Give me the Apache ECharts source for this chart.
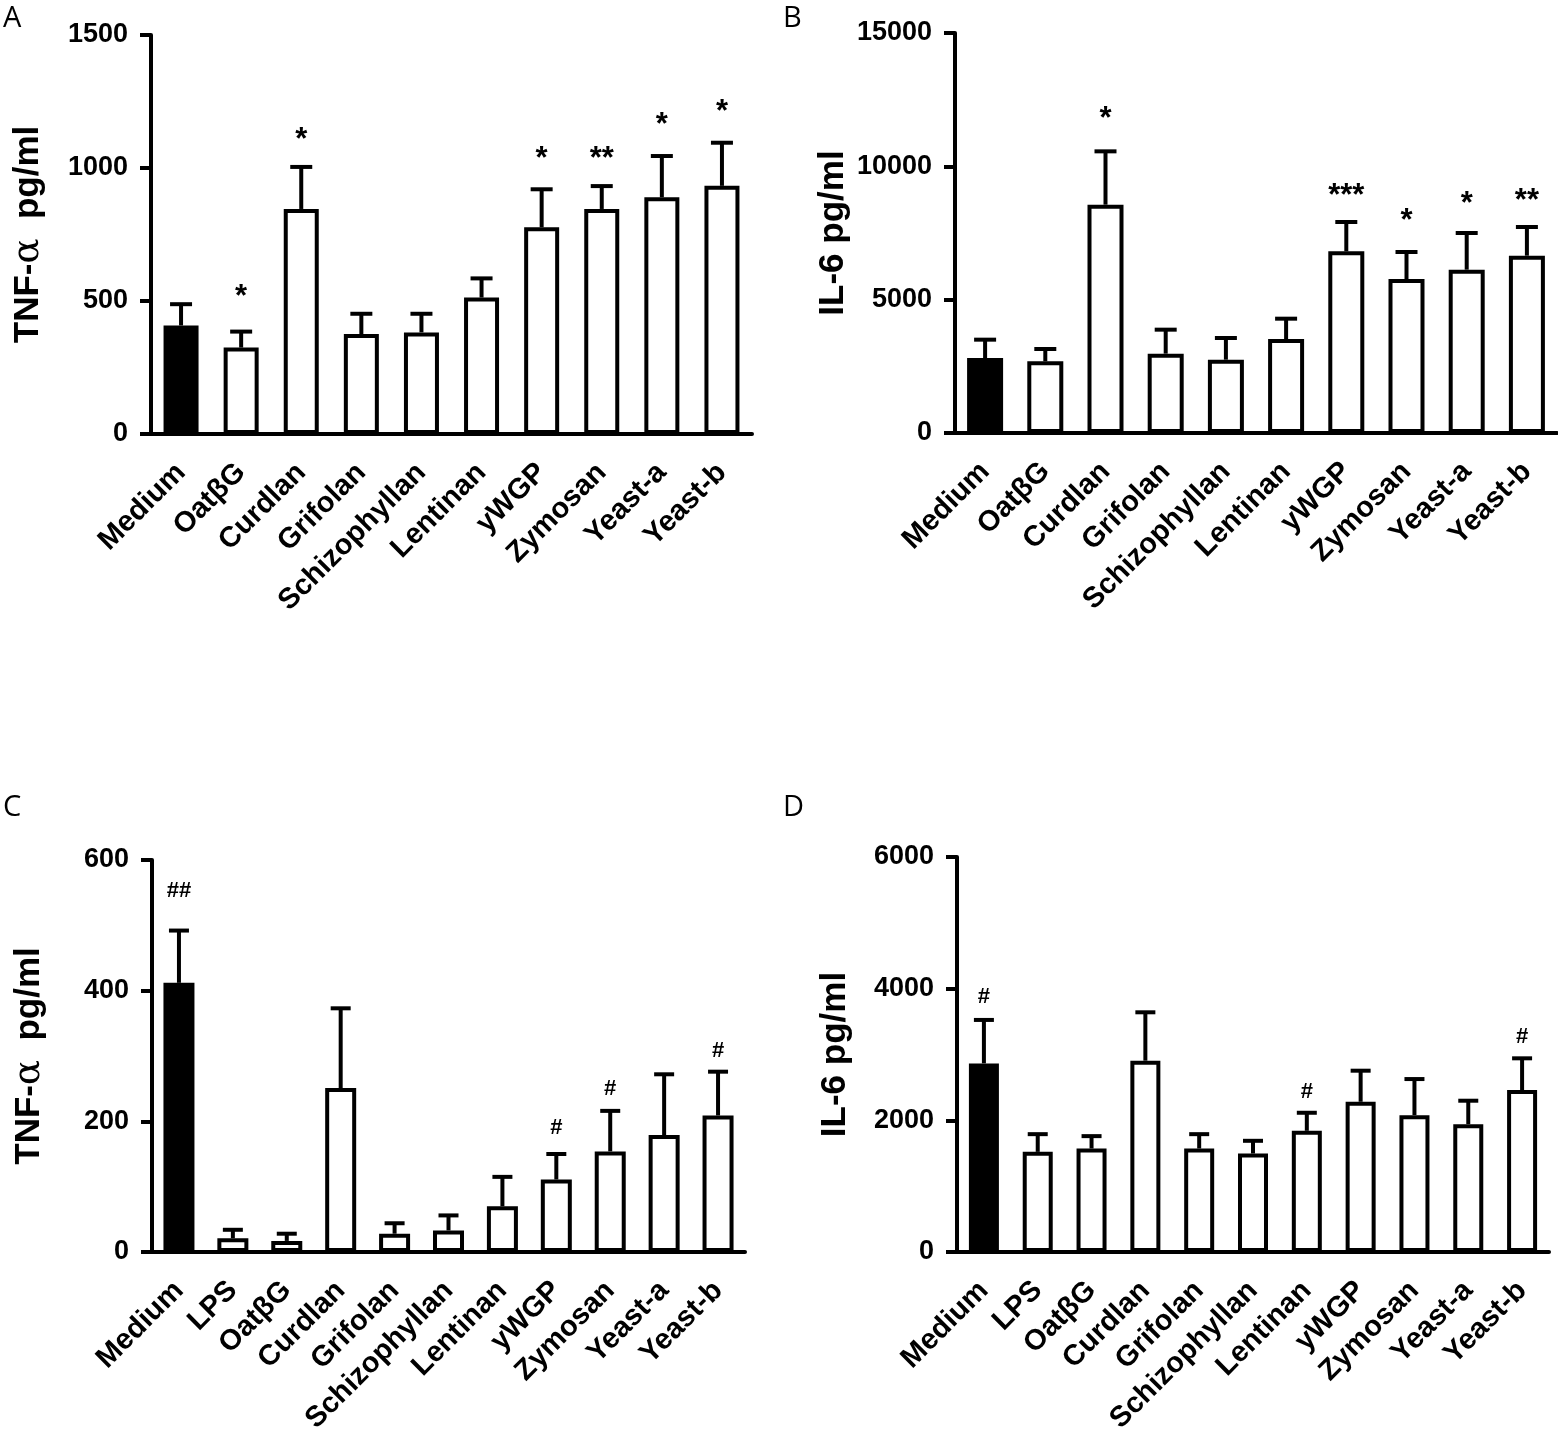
<!DOCTYPE html>
<html>
<head>
<meta charset="utf-8">
<script src="https://cdn.jsdelivr.net/npm/echarts@6/dist/echarts.min.js"></script>
<style>
  html, body { margin: 0; padding: 0; background: #fff; }
  #chart { width: 1558px; height: 1430px; }
</style>
</head>
<body>
<div id="chart"></div>
<script>
// categories
const catsAB = ['Medium', 'OatβG', 'Curdlan', 'Grifolan', 'Schizophyllan', 'Lentinan', 'yWGP', 'Zymosan', 'Yeast-a', 'Yeast-b'];
const catsCD = ['Medium', 'LPS', 'OatβG', 'Curdlan', 'Grifolan', 'Schizophyllan', 'Lentinan', 'yWGP', 'Zymosan', 'Yeast-a', 'Yeast-b'];

// A: TNF-a, means and SEM
const tnfA = [408, 325, 846, 376, 382, 513, 777, 846, 890, 933];
const tnfASem = [80, 60, 158, 76, 70, 72, 143, 86, 155, 162];
const marksA = ['', '*', '*', '', '', '', '*', '**', '*', '*'];
const marksAY = [null, 540, 1129, null, null, null, 1057, 1057, 1185, 1234];

// B: IL-6
const il6B = [2812, 2687, 8562, 2975, 2750, 3525, 6812, 5775, 6125, 6650];
const il6BSem = [688, 463, 2000, 900, 812, 762, 1100, 1012, 1375, 1075];
const marksB = ['', '', '*', '', '', '', '***', '*', '*', '**'];
const marksBY = [null, null, 12000, null, null, null, 9125, 8187, 8812, 8937];

// C: TNF-a with LPS
const tnfC = [412, 21, 17, 251, 28, 33, 70, 111, 154, 179, 209];
const tnfCSem = [80, 13, 11, 122, 16, 23, 45, 39, 62, 93, 67];
const marksC = ['##', '', '', '', '', '', '', '#', '#', '', '#'];
const marksCY = [552, null, null, null, null, null, null, 190, 249, null, 307];

// D: IL-6 with LPS
const il6D = [2865, 1521, 1572, 2906, 1572, 1496, 1841, 2282, 2079, 1942, 2460];
const il6DSem = [660, 269, 188, 735, 218, 193, 274, 472, 548, 356, 482];
const marksD = ['#', '', '', '', '', '', '#', '', '', '', '#'];
const marksDY = [3880, null, null, null, null, null, 2434, null, null, null, 3271];

// y axis ticks
const yMax = [1500, 15000, 600, 6000];
const yStep = [500, 5000, 200, 2000];

const FONT = 'Liberation Sans, Arial, sans-serif';

const panels = [
  { cats: catsAB, mean: tnfA, sem: tnfASem, marks: marksA, marksY: marksAY, name: 'tnf', grid: { left: 151, top: 35, width: 601, height: 399 }, barW: 35, cap: 22 },
  { cats: catsAB, mean: il6B, sem: il6BSem, marks: marksB, marksY: marksBY, name: 'il6', grid: { left: 955, top: 33, width: 602, height: 400 }, barW: 36, cap: 22 },
  { cats: catsCD, mean: tnfC, sem: tnfCSem, marks: marksC, marksY: marksCY, name: 'tnf', grid: { left: 152, top: 860, width: 593, height: 392 }, barW: 31, cap: 20 },
  { cats: catsCD, mean: il6D, sem: il6DSem, marks: marksD, marksY: marksDY, name: 'il6', grid: { left: 957, top: 857, width: 592, height: 395 }, barW: 30, cap: 20 }
];

function errRender(capW) {
  return function (params, api) {
    const i = api.value(0);
    const base = api.coord([i, api.value(1)]);
    const tip = api.coord([i, api.value(2)]);
    const st = { stroke: '#000', lineWidth: 4 };
    return {
      type: 'group',
      children: [
        { type: 'line', shape: { x1: tip[0], y1: base[1], x2: tip[0], y2: tip[1] }, style: st },
        { type: 'line', shape: { x1: tip[0] - capW / 2, y1: tip[1], x2: tip[0] + capW / 2, y2: tip[1] }, style: st }
      ]
    };
  };
}

function markRender(marks) {
  return function (params, api) {
    const txt = marks[api.value(0)];
    const p = api.coord([api.value(0), api.value(1)]);
    const star = txt.indexOf('*') >= 0;
    const fs = star ? 31 : 22;
    return {
      type: 'text',
      style: {
        x: p[0], y: p[1] + (star ? fs * 0.22 : 0),
        text: txt, fontSize: fs, fontWeight: 'bold', fontFamily: FONT,
        fill: '#000', align: 'center', verticalAlign: 'middle'
      }
    };
  };
}

const grids = [], xAxes = [], yAxes = [], series = [];
panels.forEach(function (p, k) {
  grids.push(Object.assign({ containLabel: false, outerBoundsMode: 'none' }, p.grid));
  xAxes.push({
    type: 'category', gridIndex: k, data: p.cats,
    axisLine: { lineStyle: { color: '#000', width: 4 } },
    axisTick: { alignWithLabel: true, length: 10, lineStyle: { color: '#000', width: 4 } },
    axisLabel: { rotate: 45, interval: 0, margin: 34, color: '#000', fontSize: 29, fontWeight: 'bold', fontFamily: FONT }
  });
  yAxes.push({
    type: 'value', gridIndex: k, min: 0, max: yMax[k], interval: yStep[k],
    name: p.name === 'tnf' ? 'TNF-{a|α}  pg/ml' : 'IL-6 pg/ml',
    nameLocation: 'middle', nameGap: 104,
    nameTextStyle: {
      color: '#000', fontSize: 35, fontWeight: 'bold', fontFamily: FONT,
      rich: { a: { fontSize: 37, fontWeight: 'normal', fontFamily: 'DejaVu Serif, serif', color: '#000' } }
    },
    axisLine: { show: true, lineStyle: { color: '#000', width: 4 } },
    axisTick: { show: true, length: 11, lineStyle: { color: '#000', width: 4 } },
    splitLine: { show: false },
    axisLabel: {
      margin: 23, color: '#000', fontSize: 27, fontWeight: 'bold', fontFamily: FONT,
      formatter: function (v) { return String(v); }
    }
  });
  series.push({
    type: 'bar', xAxisIndex: k, yAxisIndex: k, barWidth: p.barW,
    data: p.mean.map(function (v, i) {
      return { value: v, itemStyle: { color: i === 0 ? '#000' : '#fff' } };
    }),
    itemStyle: { borderColor: '#000', borderWidth: 4 },
    silent: true
  });
  series.push({
    type: 'custom', xAxisIndex: k, yAxisIndex: k, z: 3,
    renderItem: errRender(p.cap),
    data: p.mean.map(function (v, i) { return [i, v, v + p.sem[i]]; }),
    silent: true
  });
  series.push({
    type: 'custom', xAxisIndex: k, yAxisIndex: k, z: 4,
    renderItem: markRender(p.marks),
    data: p.marksY.map(function (y, i) { return [i, y]; }).filter(function (d) { return d[1] !== null; }),
    silent: true
  });
});

const letters = [['A', 3, 4], ['B', 783, 4], ['C', 3, 793], ['D', 783, 793]];

const chart = echarts.init(document.getElementById('chart'));
chart.setOption({
  backgroundColor: '#fff',
  animation: false,
  grid: grids,
  xAxis: xAxes,
  yAxis: yAxes,
  series: series,
  graphic: letters.map(function (l) {
    return { type: 'text', left: l[1], top: l[2], style: { text: l[0], fontSize: 29, fontFamily: 'Open Sans, sans-serif', fill: '#000' } };
  })
});
</script>
</body>
</html>
